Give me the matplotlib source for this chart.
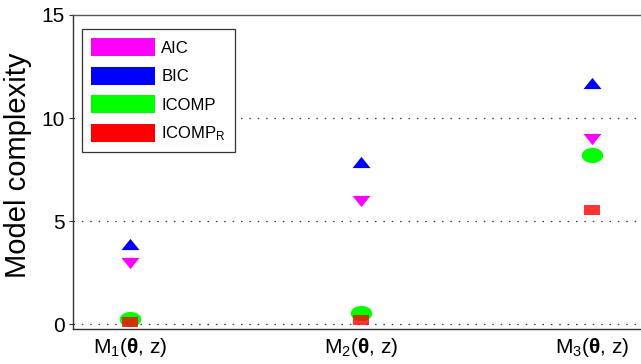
import numpy as np
import matplotlib
matplotlib.use("Agg")
import matplotlib.pyplot as plt
from matplotlib.patches import Patch

plt.rcParams["font.family"] = ["Liberation Sans", "DejaVu Sans"]
plt.rcParams["mathtext.fontset"] = "custom"
plt.rcParams["mathtext.rm"] = "Liberation Sans"
plt.rcParams["mathtext.it"] = "Liberation Sans:italic"
plt.rcParams["mathtext.bf"] = "Liberation Sans:bold"

models = [r"M$_1$($\mathbf{\theta}$, z)", r"M$_2$($\mathbf{\theta}$, z)", r"M$_3$($\mathbf{\theta}$, z)"]
aic = [2.95, 5.97, 8.96]
bic = [3.9, 7.86, 11.7]
icomp = [0.23, 0.55, 8.2]
icomp_r = [0.11, 0.19, 5.53]

# wide marker shapes (the original markers are stretched horizontally)
t = np.linspace(0, 2 * np.pi, 60)
ellipse = list(zip(np.cos(t), 0.7 * np.sin(t)))
tri_up = [(-1, -0.62), (1, -0.62), (0, 0.62)]
tri_down = [(-1, 0.62), (1, 0.62), (0, -0.62)]
square = [(-1, -0.68), (1, -0.68), (1, 0.68), (-1, 0.68)]

fig = plt.figure(figsize=(6.41, 3.64), dpi=100)
ax = fig.add_axes([73 / 641, 1 - 329 / 364, 1 - 73 / 641, (329 - 15) / 364])

x = np.arange(1, len(models) + 1)
ax.plot(x, aic, linestyle="none", marker=tri_down, ms=13, color="#ff00ff", mew=0)
ax.plot(x, bic, linestyle="none", marker=tri_up, ms=13, color="#0000ff", mew=0)
ax.plot(x, icomp, linestyle="none", marker=ellipse, ms=15.5, color="#00ff00", mew=0)
ax.plot(x, icomp_r, linestyle="none", marker=square, ms=11, color="#ff0000", alpha=0.8, mew=0)

for yv in [0, 5, 10]:
    ax.axhline(yv, color="#333333", lw=0.9, linestyle=(0, (1.2, 5.5)), zorder=0.5)

ax.set_xlim(1 - 57 / 231, 3 + 49 / 231)
ax.set_ylim(-0.24, 15)
ax.set_xticks(x)
ax.set_xticklabels(models, fontsize=15)
ax.set_yticks([0, 5, 10, 15])
ax.tick_params(axis="x", length=0, pad=5)
ax.tick_params(axis="y", direction="out", length=3, labelsize=15, pad=3, color="#333333")
ax.set_ylabel("Model complexity", fontsize=21, labelpad=4)
ax.yaxis.set_label_coords(-0.072, 0.52)

ax.spines["right"].set_visible(False)
ax.spines["top"].set_color("#555555")
ax.spines["left"].set_color("#333333")
ax.spines["bottom"].set_color("#333333")
for s in ax.spines.values():
    s.set_linewidth(1.0)

handles = [
    Patch(facecolor="#ff00ff", edgecolor="none"),
    Patch(facecolor="#0000ff", edgecolor="none"),
    Patch(facecolor="#00ff00", edgecolor="none"),
    Patch(facecolor="#ff0000", edgecolor="none"),
]
labels = ["AIC", "BIC", "ICOMP", r"ICOMP$_\mathrm{R}$"]
leg = ax.legend(handles, labels, loc="upper left", bbox_to_anchor=(0.016, 0.955),
                borderaxespad=0, fontsize=12, handlelength=3.8, handleheight=1.3,
                handletextpad=0.4, labelspacing=0.62, borderpad=0.55,
                fancybox=False, framealpha=1, edgecolor="#333333")
leg.get_frame().set_linewidth(0.9)

fig.savefig("out.png", dpi=100)
